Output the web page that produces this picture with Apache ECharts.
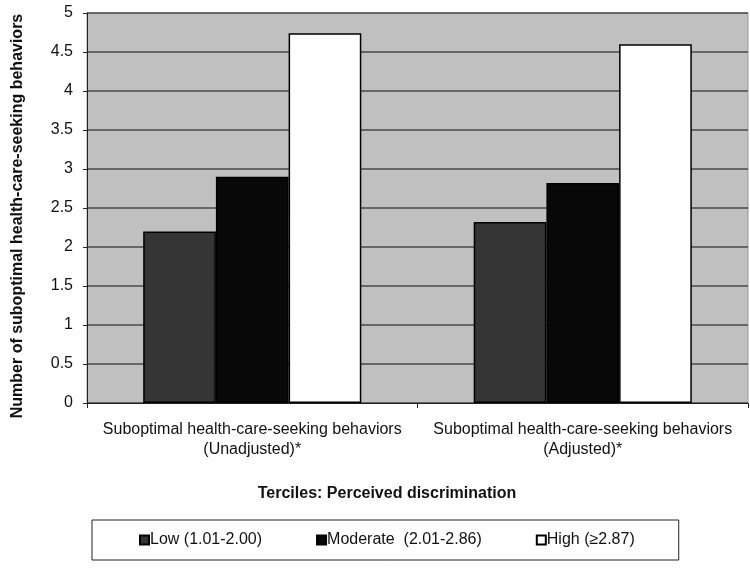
<!DOCTYPE html>
<html>
<head>
<meta charset="utf-8">
<script src="https://cdn.jsdelivr.net/npm/echarts@6/dist/echarts.min.js"></script>
<style>html,body{margin:0;padding:0;background:#fff}#c{width:750px;height:569px}</style>
</head>
<body>
<div id="c"></div>
<script>
var categories = ['Suboptimal health-care-seeking behaviors\n(Unadjusted)*', 'Suboptimal health-care-seeking behaviors\n(Adjusted)*'];
var seriesNames = ['Low (1.01-2.00)', 'Moderate  (2.01-2.86)', 'High (\u22652.87)'];
var lowValues = [2.2, 2.32];
var moderateValues = [2.9, 2.82];
var highValues = [4.74, 4.6];
var yTicks = [0, 0.5, 1, 1.5, 2, 2.5, 3, 3.5, 4, 4.5, 5];
var yAxisTitle = 'Number of suboptimal health-care-seeking behaviors';
var xAxisTitle = 'Terciles: Perceived discrimination';
var colors = ['#353535', '#080808', '#ffffff'];

var font = 'Liberation Sans, Arial, sans-serif';
var chart = echarts.init(document.getElementById('c'));
var dataSets = [lowValues, moderateValues, highValues];
chart.setOption({
  animation: false,
  backgroundColor: '#ffffff',
  title: {
    text: xAxisTitle,
    left: 382, top: 481, textAlign: 'center',
    textStyle: {fontFamily: font, fontSize: 16, fontWeight: 'bold', color: '#111'}
  },
  graphic: [{
    type: 'text', x: 18, y: 216, rotation: Math.PI / 2,
    style: {text: yAxisTitle, fontFamily: font, fontSize: 16, fontWeight: 'bold', fill: '#111',
      textAlign: 'center', textVerticalAlign: 'middle'}
  }],
  legend: {
    left: 92, top: 520,
    padding: [11, 44, 11, 47],
    itemGap: 54,
    itemWidth: 9, itemHeight: 9,
    borderColor: '#222', borderWidth: 1,
    textStyle: {fontFamily: font, fontSize: 16, lineHeight: 18, color: '#111', padding: [0, 0, 0, -4]},
    data: seriesNames.map(function (n) { return {name: n, icon: 'rect'}; })
  },
  grid: {
    left: 87, right: 2, top: 13, bottom: 166,
    show: true, backgroundColor: '#c0c0c0', borderColor: '#9a9a9a', borderWidth: 1
  },
  xAxis: {
    type: 'category',
    data: categories,
    axisLine: {show: true, lineStyle: {color: '#222', width: 1}},
    axisTick: {show: true, length: 5, lineStyle: {color: '#222'}},
    axisLabel: {fontFamily: font, fontSize: 16, color: '#111', margin: 17, lineHeight: 20, interval: 0}
  },
  yAxis: {
    type: 'value', min: 0, max: 5, interval: 0.5,
    axisLine: {show: true, lineStyle: {color: '#222', width: 1}},
    axisTick: {show: true, length: 4, lineStyle: {color: '#222'}},
    axisLabel: {fontFamily: font, fontSize: 16, color: '#111', margin: 14,
      formatter: function (v) { return yTicks.indexOf(v) >= 0 ? String(v) : ''; }},
    splitLine: {show: true, lineStyle: {color: '#4a4a4a', width: 1.5}}
  },
  series: dataSets.map(function (d, i) {
    return {
      name: seriesNames[i], type: 'bar', data: d,
      barGap: '0%', barCategoryGap: '34%',
      itemStyle: {color: colors[i], borderColor: '#000', borderWidth: 1.5}
    };
  })
});
</script>
</body>
</html>
